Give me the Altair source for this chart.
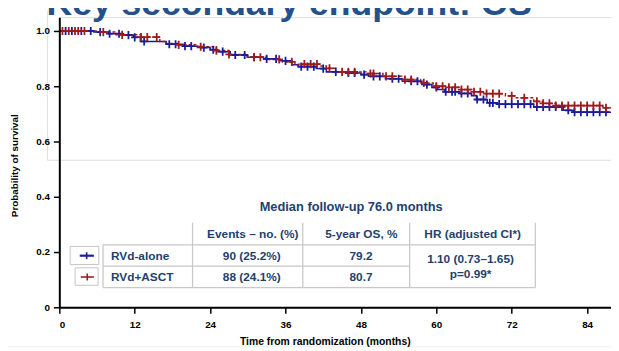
import altair as alt
import pandas as pd
import numpy as np

# ---------------- data ----------------
arms = ["RVd-alone", "RVd+ASCT"]

t_alone = [0, 5.5, 7.9, 10.2, 11.8, 12.9, 17, 19.7, 22, 24, 25.2, 27.2, 29.9, 32.5,
           35, 37, 38, 40.9, 42.5, 45.6, 48, 49.2, 51.9, 54.6, 57.7, 59.3, 60.2,
           61.3, 63.7, 65.6, 66.4, 68.1, 69.7, 75.5, 80.2, 81.8]
s_alone = [1.0, 0.996, 0.99, 0.985, 0.977, 0.962, 0.952, 0.945, 0.94, 0.932, 0.925,
           0.913, 0.905, 0.899, 0.892, 0.878, 0.871, 0.864, 0.852, 0.848, 0.842,
           0.836, 0.827, 0.818, 0.806, 0.796, 0.788, 0.78, 0.774, 0.766, 0.752,
           0.74, 0.735, 0.725, 0.713, 0.706]
cens_alone = [1, 2, 3.5, 5, 6.5, 8, 9.5, 11, 12, 13.5, 17.5, 18.5, 20, 21, 23, 24.5,
              26, 28, 29.5, 31, 33, 34.5, 36, 38.5, 39.5, 40.5, 42, 44, 46, 47,
              48.5, 50, 51, 53, 54, 56, 57, 58.5, 60, 61.5, 62.5, 63, 64, 65, 66.5,
              67.5, 68.5, 69, 70, 71, 72, 73, 74, 75, 76, 77, 78, 79, 80, 81, 82,
              83, 84, 85, 86, 87]

t_asct = [0, 6, 9, 13, 16, 17, 19, 22, 25, 27, 30, 33, 35.5, 37.5, 41.5, 42.5, 44,
          49, 51.5, 54.5, 57.5, 59.5, 62, 64, 66, 67.5, 71, 72.5, 75.5, 77, 79, 86.5]
s_asct = [1.0, 0.996, 0.986, 0.978, 0.962, 0.955, 0.95, 0.943, 0.929, 0.915, 0.905,
          0.897, 0.888, 0.88, 0.873, 0.865, 0.852, 0.846, 0.836, 0.824, 0.812, 0.8,
          0.796, 0.788, 0.78, 0.773, 0.765, 0.758, 0.745, 0.738, 0.73, 0.722]
cens_asct = [0.5, 1.5, 2.5, 3, 4, 7, 10, 13, 14, 15.5, 19, 22.5, 25, 27, 31, 32,
             35, 37, 39, 40, 41, 43, 45, 46, 47, 49.5, 50, 52, 53, 55, 56, 58, 60,
             61, 62, 63, 64, 65, 66, 67, 68, 69, 70, 72, 74, 76, 77, 78, 79, 80,
             81, 82, 83, 84, 85, 86, 87]

x_end = 87.8
x_ticks = [0, 12, 24, 36, 48, 60, 72, 84]
y_ticks = [0, 0.2, 0.4, 0.6, 0.8, 1.0]

title_text = "Key secondary endpoint: OS"
subtitle_text = "Median follow-up 76.0 months"
headers = ["Events – no. (%)", "5-year OS, %", "HR (adjusted CI*)"]
events = ["90 (25.2%)", "88 (24.1%)"]
os5 = ["79.2", "80.7"]
hr_lines = ["1.10 (0.73–1.65)", "p=0.99*"]

# ---------------- styling ----------------
FONT = "Liberation Sans"
NAVY = "#233f6e"
BLUE = "#1b1b9c"
RED = "#a01a1a"
GRID = "#c9c9c9"
PLUS = "M-1,0H1M0,-1.15V1.15"


def step_df(t, s):
    return pd.DataFrame({"t": list(t) + [x_end], "s": list(s) + [s[-1]]})


def cens_df(t, s, c):
    idx = np.searchsorted(np.array(t), np.array(c), side="right") - 1
    return pd.DataFrame({"t": c, "s": np.array(s)[idx]})


one = alt.Data(values=[{}])

xsc = alt.Scale(domain=[0, x_end], nice=False, zero=False)
ysc = alt.Scale(domain=[0, 1.05], nice=False, zero=False)

x_axis = alt.Axis(values=x_ticks, grid=False, labelFont=FONT, labelFontSize=10,
                  labelFontWeight="bold", labelColor="black", domainColor="black",
                  domainWidth=2, tickColor="black", tickWidth=1.5, tickSize=6,
                  labelPadding=6, title="Time from randomization (months)",
                  titleFont=FONT, titleFontSize=10.5, titleFontWeight="bold",
                  titleColor="black", titleX=269, titleY=35, titleBaseline="middle",
                  titleAlign="center", zindex=2)
y_axis = alt.Axis(values=y_ticks, grid=False, labelFont=FONT, labelFontSize=10,
                  labelFontWeight="bold", labelColor="black", domainColor="black",
                  domainWidth=2, tickColor="black", tickWidth=1.5, tickSize=6,
                  labelPadding=4,
                  labelExpr="datum.value == 0 ? '0' : format(datum.value, '.1f')",
                  title="Probability of survival", titleFont=FONT, titleFontSize=10,
                  titleFontWeight="bold", titleColor="black", titleAngle=270,
                  titleX=-45, titleY=150, titleAlign="center", titleBaseline="middle",
                  zindex=2)


def txt(s, x, y, size=12, align="center", color=NAVY, baseline="middle"):
    return alt.Chart(one).mark_text(text=s, align=align, baseline=baseline,
                                    fontSize=size, fontWeight="bold", color=color,
                                    font=FONT).encode(x=alt.value(x), y=alt.value(y))


def rule(x1, y1, x2, y2, color=GRID, w=1.3):
    return alt.Chart(one).mark_rule(color=color, strokeWidth=w).encode(
        x=alt.value(x1), y=alt.value(y1), x2=alt.value(x2), y2=alt.value(y2))


def box(x1, y1, x2, y2):
    return alt.Chart(one).mark_rect(fill="white", stroke="#c4c4c4", strokeWidth=1).encode(
        x=alt.value(x1), y=alt.value(y1), x2=alt.value(x2), y2=alt.value(y2))


layers = []
# slide frame
layers.append(rule(-12, -7, -12, 145, "#e2e2e2", 1))
layers.append(rule(-12, 145, 559, 145, "#dcdcdc", 1))
layers.append(rule(-60, 334, 559, 334, "#eeeeee", 1))

# table grid
for xv in [135, 246.7, 355, 482.3]:
    layers.append(rule(xv, 208.3, xv, 274))
layers.append(rule(44.3, 230.7, 44.3, 274))
layers.append(rule(44.3, 230.7, 482.3, 230.7))
layers.append(rule(44.3, 252.3, 355, 252.3))
layers.append(rule(44.3, 274, 482.3, 274))

# table text
layers.append(txt(subtitle_text, 295.7, 192.7, size=13))
for h, xv in zip(headers, [196, 306, 418.8]):
    layers.append(txt(h, xv, 220))
row_y = [241.7, 263.3]
for i in range(2):
    layers.append(txt(arms[i], 52.3, row_y[i], align="left"))
    layers.append(txt(events[i], 195, row_y[i]))
    layers.append(txt(os5[i], 305.7, row_y[i]))
layers.append(txt(hr_lines[0], 416.7, 245.3))
layers.append(txt(hr_lines[1], 416.7, 260))

# legend boxes
layers.append(box(11, 232.3, 40, 250.7))
layers.append(rule(20.7, 241.7, 35, 241.7, BLUE, 2.2))
layers.append(rule(27.7, 238.2, 27.7, 245.2, BLUE, 1.6))
layers.append(box(16, 254, 39.3, 271.7))
layers.append(rule(21.7, 263.3, 35, 263.3, RED, 1.6))
layers.append(rule(28.3, 259.8, 28.3, 266.8, RED, 1.6))

# KM curves
line_a = alt.Chart(step_df(t_alone, s_alone)).mark_line(
    interpolate="step-after", color=BLUE, strokeWidth=1.6).encode(
    x=alt.X("t:Q", scale=xsc, axis=x_axis), y=alt.Y("s:Q", scale=ysc, axis=y_axis))
line_b = alt.Chart(step_df(t_asct, s_asct)).mark_line(
    interpolate="step-after", color=RED, strokeWidth=1.5, strokeDash=[3, 2]).encode(
    x=alt.X("t:Q", scale=xsc, axis=x_axis), y=alt.Y("s:Q", scale=ysc, axis=y_axis))
pts_a = alt.Chart(cens_df(t_alone, s_alone, cens_alone)).mark_point(
    shape=PLUS, size=52, filled=False, strokeWidth=1.8, color=BLUE, opacity=1).encode(
    x=alt.X("t:Q", scale=xsc, axis=x_axis), y=alt.Y("s:Q", scale=ysc, axis=y_axis))
pts_b = alt.Chart(cens_df(t_asct, s_asct, cens_asct)).mark_point(
    shape=PLUS, size=52, filled=False, strokeWidth=1.8, color=RED, opacity=1).encode(
    x=alt.X("t:Q", scale=xsc, axis=x_axis), y=alt.Y("s:Q", scale=ysc, axis=y_axis))
layers += [line_a, line_b, pts_a, pts_b]

# slide title (cut off at the top, as in the slide)
layers.append(txt(title_text, -13, -2, size=36, align="left", color="#24508c",
                  baseline="alphabetic"))

chart = alt.layer(*layers).properties(
    width=559, height=294,
    padding={"left": 52, "top": 7, "right": 0, "bottom": 42},
    autosize=alt.AutoSizeParams(type="none"),
).configure_view(strokeWidth=0).configure(background="white")

chart.save("out.html", embed_options={"renderer": "svg", "actions": False})
